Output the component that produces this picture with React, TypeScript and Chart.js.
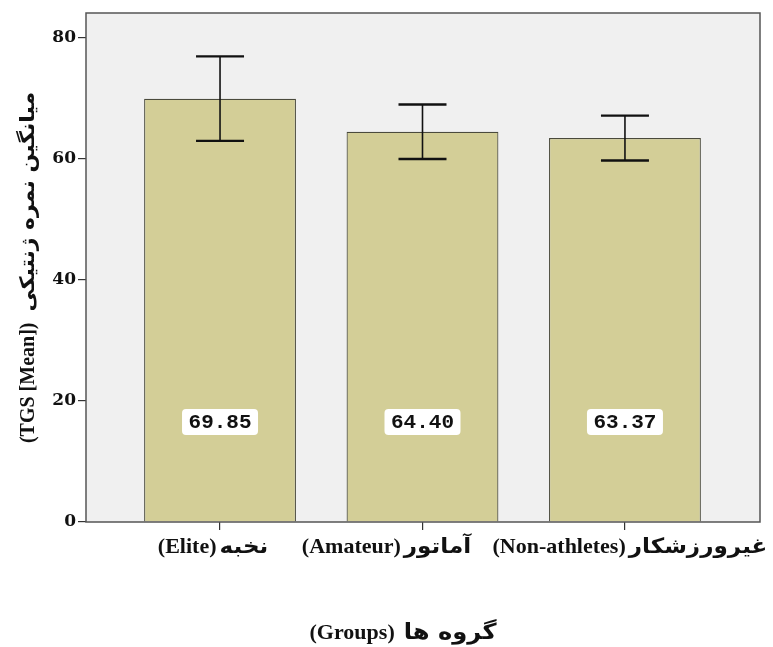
import React, { useEffect, useRef } from "react";
import { Chart, registerables } from "chart.js";

Chart.register(...registerables);

const categoriesEn = ["(Elite)", "(Amateur)", "(Non-athletes)"];
const categoriesFa = ["نخبه", "آماتور", "غیرورزشکار"];
const means = [69.85, 64.4, 63.37];
const errorUpper = [76.85, 68.9, 67.07];
const errorLower = [62.9, 59.9, 59.67];
const valueLabels = ["69.85", "64.40", "63.37"];
const yTicks = [0, 20, 40, 60, 80];
const yTitleEn = "(TGS [Mean])";
const yTitleFa = "میانگین نمره ژنتیکی";
const xTitleEn = "(Groups)";
const xTitleFa = "گروه ها";

// styling
const BAR_COLOR = "#D3CE97";
const PLOT_BG = "#F0F0F0";
const SERIF = "'Liberation Serif', 'Times New Roman', serif";
const FA_FONT = "'DejaVu Sans', sans-serif";
const FA_STRETCH = 1.1;
const labelShift = [-7, -36, 5];

function drawMixed(ctx: any, en: string, fa: string, cx: number, baseY: number, enSize: number, faSize: number, gap: number) {
  const enFont = `bold ${enSize}px ${SERIF}`;
  const faFont = `bold ${faSize}px ${FA_FONT}`;
  ctx.font = enFont;
  const wEn = ctx.measureText(en).width;
  ctx.font = faFont;
  const wFa = ctx.measureText(fa).width * FA_STRETCH;
  const start = cx - (wEn + gap + wFa) / 2;
  ctx.textAlign = "left";
  ctx.textBaseline = "alphabetic";
  ctx.font = enFont;
  ctx.fillText(en, start, baseY);
  ctx.font = faFont;
  ctx.save();
  ctx.translate(start + wEn + gap, baseY);
  ctx.scale(FA_STRETCH, 1);
  ctx.fillText(fa, 0, 0);
  ctx.restore();
}

const plotDecor = {
  id: "plotDecor",
  beforeDraw(chart: any) {
    const { ctx, chartArea: a } = chart;
    ctx.save();
    ctx.fillStyle = "#FFFFFF";
    ctx.fillRect(0, 0, chart.width, chart.height);
    ctx.fillStyle = PLOT_BG;
    ctx.fillRect(a.left, a.top, a.right - a.left, a.bottom - a.top);
    ctx.restore();
  },
  afterDatasetsDraw(chart: any) {
    const { ctx, chartArea: a } = chart;
    const yScale = chart.scales.y;
    const xScale = chart.scales.x;
    const meta = chart.getDatasetMeta(0);
    ctx.save();
    meta.data.forEach((el: any, i: number) => {
      const x = el.x;
      const yt = yScale.getPixelForValue(errorUpper[i]);
      const yb = yScale.getPixelForValue(errorLower[i]);
      ctx.strokeStyle = "#111111";
      ctx.lineWidth = 1.6;
      ctx.beginPath();
      ctx.moveTo(x, yt);
      ctx.lineTo(x, yb);
      ctx.stroke();
      ctx.lineWidth = 2.4;
      ctx.beginPath();
      ctx.moveTo(x - 24, yt);
      ctx.lineTo(x + 24, yt);
      ctx.moveTo(x - 24, yb);
      ctx.lineTo(x + 24, yb);
      ctx.stroke();

      // value label box
      const by = a.bottom - 100;
      const w = 76, h = 26;
      ctx.fillStyle = "#FFFFFF";
      ctx.beginPath();
      if ((ctx as any).roundRect) (ctx as any).roundRect(x - w / 2, by - h / 2, w, h, 4);
      else ctx.rect(x - w / 2, by - h / 2, w, h);
      ctx.fill();
      ctx.fillStyle = "#111111";
      ctx.font = "bold 21px 'Liberation Mono', 'DejaVu Sans Mono', monospace";
      ctx.textAlign = "center";
      ctx.textBaseline = "middle";
      ctx.fillText(valueLabels[i], x, by + 1);
    });
    // plot border
    ctx.strokeStyle = "#555555";
    ctx.lineWidth = 1.5;
    ctx.strokeRect(a.left, a.top, a.right - a.left, a.bottom - a.top);

    // x category labels
    ctx.fillStyle = "#111111";
    categoriesEn.forEach((en, i) => {
      const cx = xScale.getPixelForValue(i) + labelShift[i];
      drawMixed(ctx, en, categoriesFa[i], cx, a.bottom + 31, 22, 21, 3);
    });
    // x title
    drawMixed(ctx, xTitleEn, xTitleFa, (a.left + a.right) / 2 - 20, chart.height - 8, 22, 22, 9);
    // y title (rotated)
    ctx.save();
    ctx.translate(27, (a.top + a.bottom) / 2);
    ctx.rotate(-Math.PI / 2);
    drawMixed(ctx, yTitleEn, yTitleFa, 0, 7, 20, 20, 11);
    ctx.restore();

    ctx.restore();
  },
};

export default function App() {
  const ref = useRef<HTMLCanvasElement | null>(null);
  useEffect(() => {
    if (!ref.current) return;
    const chart = new Chart(ref.current, {
      type: "bar",
      data: {
        datasets: [
          {
            data: categoriesEn.map((_, i) => ({ x: i, y: means[i] })),
            backgroundColor: BAR_COLOR,
            borderColor: "#4A4A3C",
            borderWidth: 1.2,
            barPercentage: 0.75,
            categoryPercentage: 1,
          },
        ],
      },
      options: {
        animation: false,
        responsive: false,
        devicePixelRatio: 1,
        layout: { padding: { top: 13, right: 13, left: 0, bottom: 0 } },
        plugins: { legend: { display: false }, tooltip: { enabled: false } },
        scales: {
          x: {
            type: "linear",
            offset: false,
            min: -0.662,
            max: 2.667,
            afterBuildTicks: (scale: any) => {
              scale.ticks = categoriesEn.map((_, i) => ({ value: i }));
            },
            afterFit: (scale: any) => {
              scale.height = 125;
            },
            grid: { display: true, offset: false, drawOnChartArea: false, drawTicks: true, tickLength: 8, color: "#333333", lineWidth: 1.2 },
            border: { display: false },
            ticks: { display: false },
          },
          y: {
            type: "linear",
            min: 0,
            max: 84,
            afterBuildTicks: (scale: any) => {
              scale.ticks = yTicks.map((v) => ({ value: v }));
            },
            afterFit: (scale: any) => {
              scale.width = 86;
            },
            grid: { display: true, drawOnChartArea: false, drawTicks: true, tickLength: 8, color: "#333333", lineWidth: 1.2 },
            border: { display: false },
            ticks: {
              padding: 2,
              color: "#111111",
              font: { family: "'DejaVu Serif', serif", size: 17, weight: "bold" },
            },
          },
        },
      },
      plugins: [plotDecor],
    } as any);
    return () => chart.destroy();
  }, []);
  return (
    <div style={{ position: "absolute", left: 0, top: 0, width: 773, height: 647, background: "#fff" }}>
      <canvas ref={ref} width={773} height={647} style={{ display: "block" }} />
    </div>
  );
}
